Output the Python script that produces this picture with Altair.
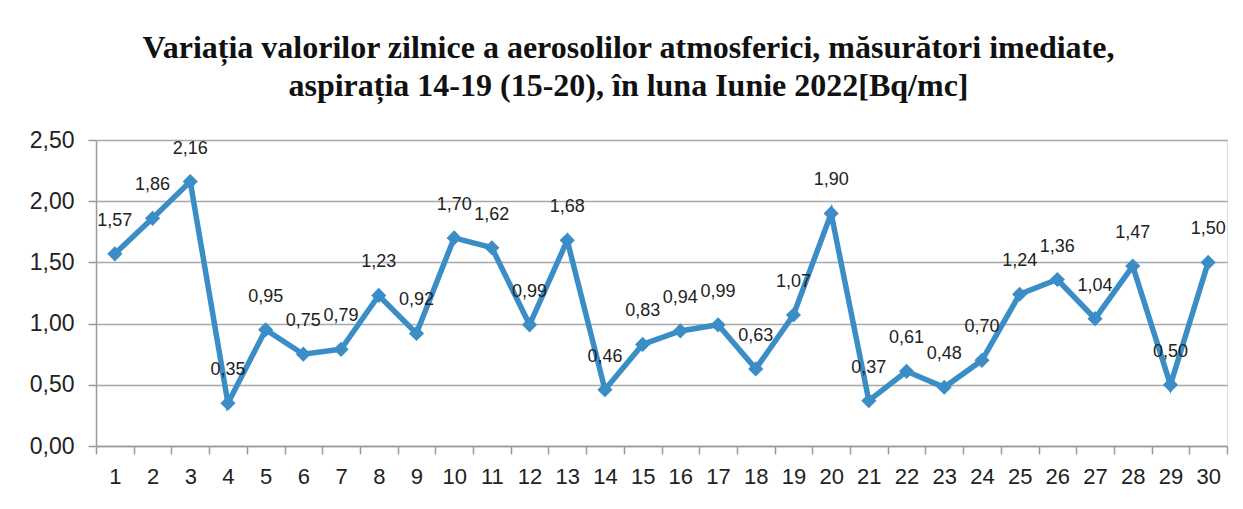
import altair as alt
import pandas as pd

days = list(range(1, 31))
values = [1.57, 1.86, 2.16, 0.35, 0.95, 0.75, 0.79, 1.23, 0.92, 1.70,
          1.62, 0.99, 1.68, 0.46, 0.83, 0.94, 0.99, 0.63, 1.07, 1.90,
          0.37, 0.61, 0.48, 0.70, 1.24, 1.36, 1.04, 1.47, 0.50, 1.50]
y_ticks = [0.0, 0.5, 1.0, 1.5, 2.0, 2.5]
title_lines = ["Variația valorilor zilnice a aerosolilor atmosferici, măsurători imediate,",
               "aspirația 14-19 (15-20),  în luna Iunie 2022[Bq/mc]"]

df = pd.DataFrame({"day": days, "value": values})

BLUE = "#3b8dc6"

x = alt.X("day:O", title=None,
          scale=alt.Scale(type="band", paddingInner=0, paddingOuter=0),
          axis=alt.Axis(labelAngle=0, tickBand="extent", labelFontSize=22,
                        labelFont="Liberation Sans", labelColor="#222",
                        domainColor="#9a9a9a", domainWidth=1.5,
                        tickColor="#9a9a9a", tickWidth=1.5, tickSize=8,
                        labelPadding=12, grid=False))
y = alt.Y("value:Q", title=None,
          scale=alt.Scale(domain=[0, 2.5], nice=False),
          axis=alt.Axis(values=y_ticks, labelFontSize=23, labelFont="Liberation Sans",
                        labelColor="#222",
                        labelExpr="replace(format(datum.value, '.2f'), '.', ',')",
                        gridColor="#a8a8a8", gridWidth=1.5,
                        domainColor="#9a9a9a", domainWidth=1.5,
                        tickColor="#9a9a9a", tickWidth=1.5, tickSize=8,
                        labelPadding=14))

base = alt.Chart(df).encode(x=x, y=y)

line = base.mark_line(color=BLUE, strokeWidth=5.5)
pts = base.mark_point(shape="diamond", filled=True, size=230, color=BLUE, opacity=1)
labels = base.transform_calculate(
    lab="replace(format(datum.value, '.2f'), '.', ',')"
).mark_text(dy=-33, fontSize=18, font="Liberation Sans", color="#222").encode(text="lab:N")

chart = alt.layer(line, pts, labels).properties(
    width=1131, height=306,
    title=alt.TitleParams(title_lines, font="Liberation Serif", fontSize=32,
                          fontWeight="bold", color="#111", anchor="middle",
                          frame="bounds", offset=26, lineHeight=38),
    autosize=alt.AutoSizeParams(type="none"),
    padding={"left": 88, "top": 132, "right": 8, "bottom": 55},
).configure_view(stroke=None).configure(background="white")

chart.save("out.html", embed_options={"renderer": "svg", "actions": False})
